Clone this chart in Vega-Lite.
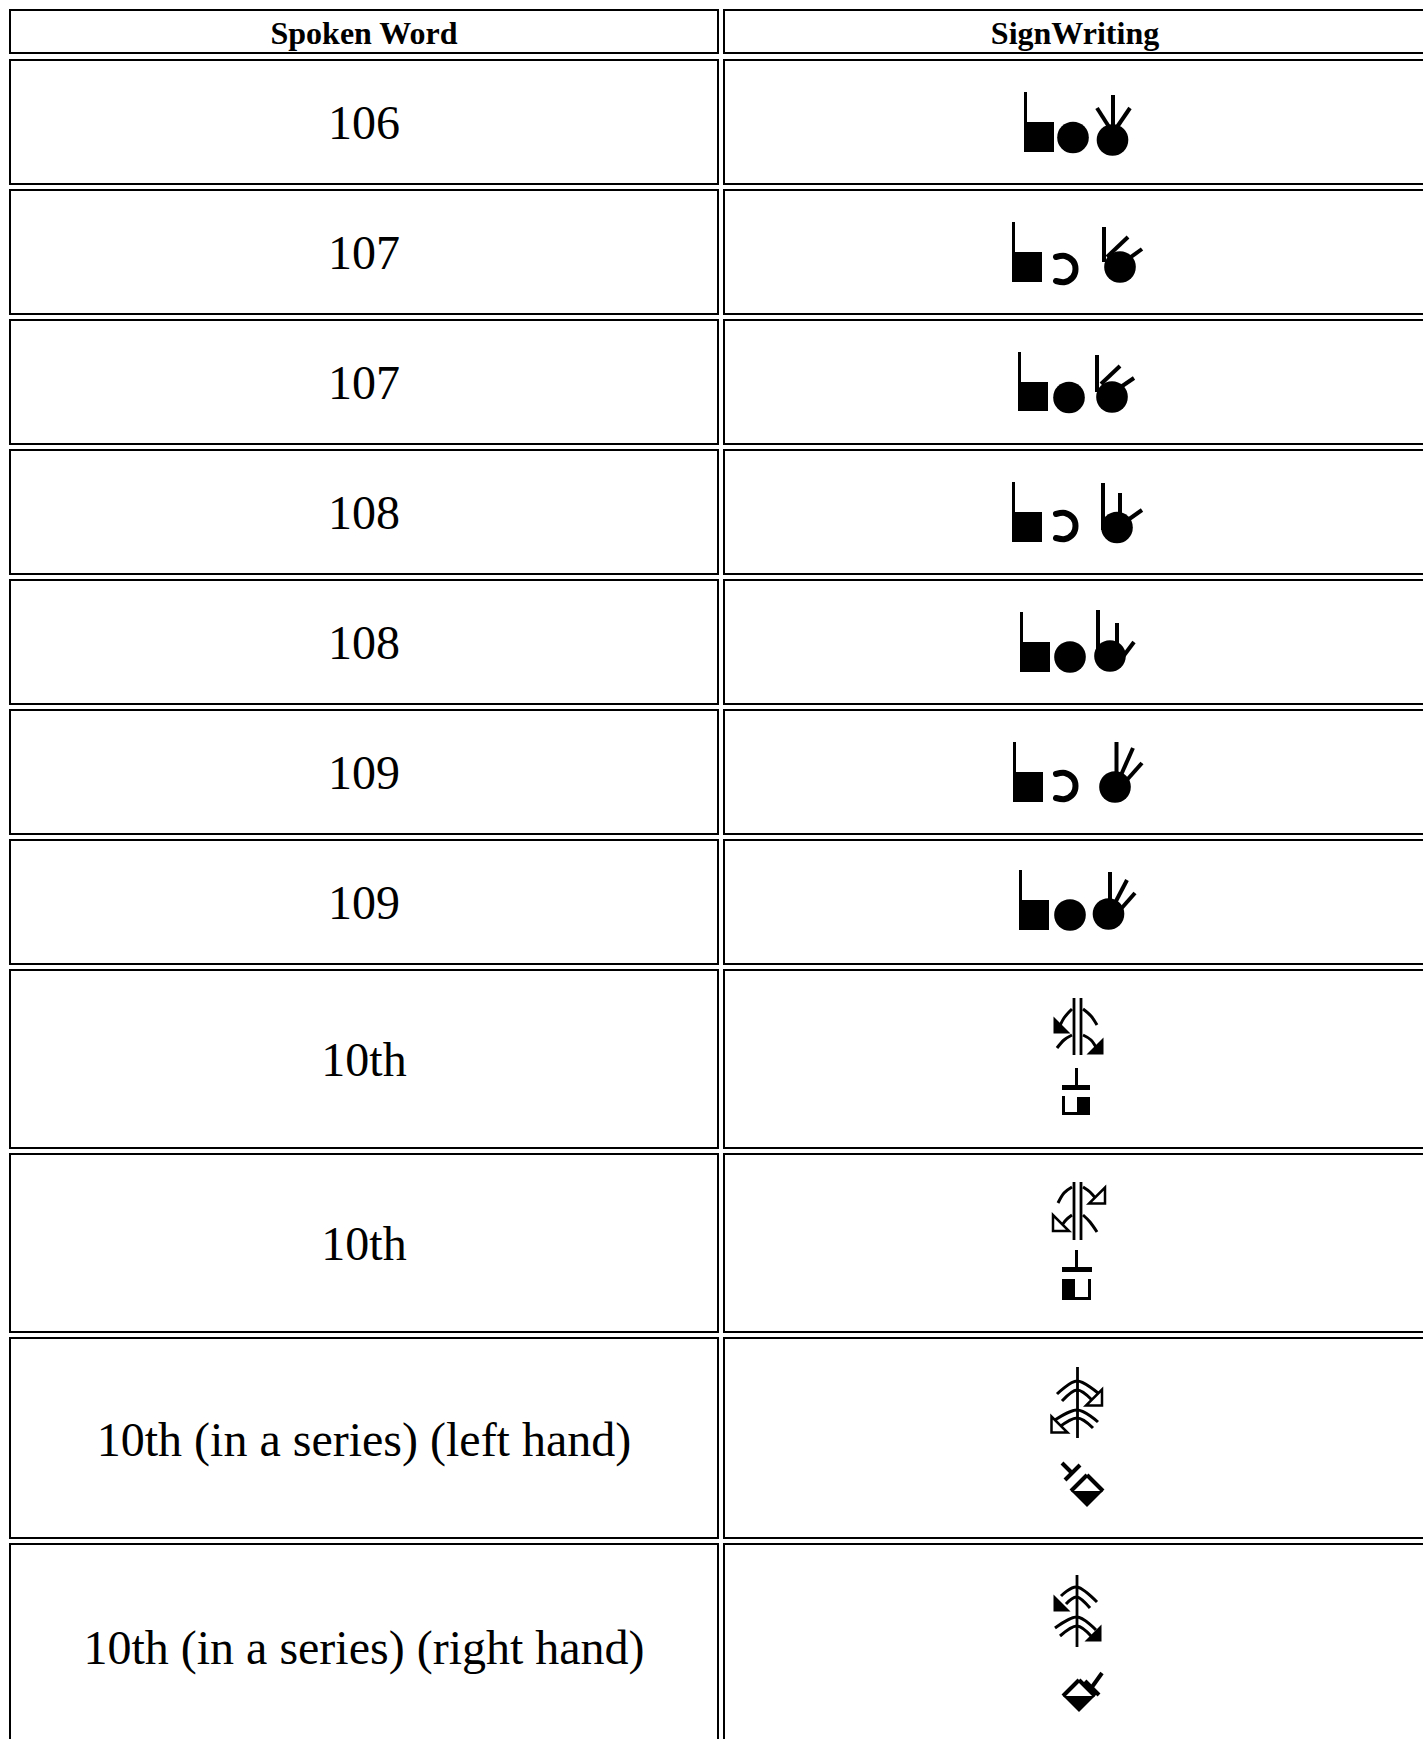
{
  "$schema": "https://vega.github.io/schema/vega-lite/v6.json",
  "width": 1423,
  "height": 1739,
  "autosize": {"type": "none"},
  "padding": 0,
  "background": "white",
  "config": {"view": {"stroke": null}},
  "datasets": {
    "cells": [
      {"x": 10, "x2": 718, "y": 10, "y2": 53}, {"x": 724, "x2": 1426, "y": 10, "y2": 53},
      {"x": 10, "x2": 718, "y": 60, "y2": 184}, {"x": 724, "x2": 1426, "y": 60, "y2": 184},
      {"x": 10, "x2": 718, "y": 190, "y2": 314}, {"x": 724, "x2": 1426, "y": 190, "y2": 314},
      {"x": 10, "x2": 718, "y": 320, "y2": 444}, {"x": 724, "x2": 1426, "y": 320, "y2": 444},
      {"x": 10, "x2": 718, "y": 450, "y2": 574}, {"x": 724, "x2": 1426, "y": 450, "y2": 574},
      {"x": 10, "x2": 718, "y": 580, "y2": 704}, {"x": 724, "x2": 1426, "y": 580, "y2": 704},
      {"x": 10, "x2": 718, "y": 710, "y2": 834}, {"x": 724, "x2": 1426, "y": 710, "y2": 834},
      {"x": 10, "x2": 718, "y": 840, "y2": 964}, {"x": 724, "x2": 1426, "y": 840, "y2": 964},
      {"x": 10, "x2": 718, "y": 970, "y2": 1148}, {"x": 724, "x2": 1426, "y": 970, "y2": 1148},
      {"x": 10, "x2": 718, "y": 1154, "y2": 1332}, {"x": 724, "x2": 1426, "y": 1154, "y2": 1332},
      {"x": 10, "x2": 718, "y": 1338, "y2": 1538}, {"x": 724, "x2": 1426, "y": 1338, "y2": 1538},
      {"x": 10, "x2": 718, "y": 1544, "y2": 1760}, {"x": 724, "x2": 1426, "y": 1544, "y2": 1760}
    ],
    "header": [
      {"t": "Spoken Word", "x": 364, "y": 33.5},
      {"t": "SignWriting", "x": 1075, "y": 33.5}
    ],
    "words": [
      {"t": "106", "x": 364, "y": 125},
      {"t": "107", "x": 364, "y": 255},
      {"t": "107", "x": 364, "y": 385},
      {"t": "108", "x": 364, "y": 515},
      {"t": "108", "x": 364, "y": 645},
      {"t": "109", "x": 364, "y": 775},
      {"t": "109", "x": 364, "y": 905},
      {"t": "10th", "x": 364, "y": 1062},
      {"t": "10th", "x": 364, "y": 1246},
      {"t": "10th (in a series) (left hand)", "x": 364, "y": 1442},
      {"t": "10th (in a series) (right hand)", "x": 364, "y": 1650}
    ],
    "blocks": [
      {"x": 1024, "x2": 1054, "y": 122, "y2": 152}, {"x": 1024, "x2": 1027, "y": 92, "y2": 122},
      {"x": 1012, "x2": 1042, "y": 252, "y2": 282}, {"x": 1012, "x2": 1015, "y": 222, "y2": 252},
      {"x": 1018, "x2": 1048, "y": 382, "y2": 411}, {"x": 1018, "x2": 1021, "y": 352, "y2": 382},
      {"x": 1012, "x2": 1042, "y": 512, "y2": 542}, {"x": 1012, "x2": 1015, "y": 482, "y2": 512},
      {"x": 1020, "x2": 1050, "y": 642, "y2": 672}, {"x": 1020, "x2": 1023, "y": 612, "y2": 642},
      {"x": 1013, "x2": 1043, "y": 772, "y2": 802}, {"x": 1013, "x2": 1016, "y": 742, "y2": 772},
      {"x": 1019, "x2": 1049, "y": 900, "y2": 930}, {"x": 1019, "x2": 1022, "y": 870, "y2": 900},
      {"x": 1062, "x2": 1090, "y": 1085, "y2": 1090}, {"x": 1075, "x2": 1078, "y": 1068, "y2": 1085},
      {"x": 1077, "x2": 1090, "y": 1097, "y2": 1115}, {"x": 1062, "x2": 1065, "y": 1096, "y2": 1115},
      {"x": 1062, "x2": 1077, "y": 1112, "y2": 1115},
      {"x": 1062, "x2": 1092, "y": 1267, "y2": 1272}, {"x": 1075, "x2": 1078, "y": 1250, "y2": 1267},
      {"x": 1062, "x2": 1075, "y": 1279, "y2": 1300}, {"x": 1088, "x2": 1091, "y": 1279, "y2": 1300},
      {"x": 1075, "x2": 1091, "y": 1297, "y2": 1300}
    ],
    "strokes": [
      {"x": 1113, "y": 95, "x2": 1113, "y2": 128}, {"x": 1097, "y": 108, "x2": 1111, "y2": 130}, {"x": 1130, "y": 108, "x2": 1115, "y2": 130},
      {"x": 1104, "y": 227, "x2": 1104, "y2": 262}, {"x": 1107, "y": 257, "x2": 1128, "y2": 237}, {"x": 1117, "y": 267, "x2": 1142, "y2": 249},
      {"x": 1097, "y": 355, "x2": 1097, "y2": 392}, {"x": 1101, "y": 384, "x2": 1120, "y2": 366}, {"x": 1112, "y": 393, "x2": 1134, "y2": 378},
      {"x": 1103, "y": 483, "x2": 1103, "y2": 530}, {"x": 1120, "y": 493, "x2": 1120, "y2": 522}, {"x": 1125, "y": 522, "x2": 1142, "y2": 510},
      {"x": 1098, "y": 610, "x2": 1098, "y2": 650}, {"x": 1117, "y": 623, "x2": 1117, "y2": 648}, {"x": 1122, "y": 658, "x2": 1134, "y2": 642},
      {"x": 1116.5, "y": 742, "x2": 1116.5, "y2": 782}, {"x": 1121, "y": 775, "x2": 1133, "y2": 748}, {"x": 1126, "y": 781, "x2": 1142, "y2": 763},
      {"x": 1110, "y": 872, "x2": 1110, "y2": 905}, {"x": 1115, "y": 903, "x2": 1127, "y2": 880}, {"x": 1120, "y": 910, "x2": 1135, "y2": 893},
      {"x": 1062, "y": 1463, "x2": 1073, "y2": 1474}, {"x": 1065, "y": 1480, "x2": 1080, "y2": 1465},
      {"x": 1071, "y": 1491, "x2": 1087, "y2": 1475}, {"x": 1087, "y": 1475, "x2": 1103, "y2": 1491},
      {"x": 1102, "y": 1673, "x2": 1092, "y2": 1687}, {"x": 1085, "y": 1681, "x2": 1099, "y2": 1695},
      {"x": 1063, "y": 1696, "x2": 1079, "y2": 1680}, {"x": 1079, "y": 1680, "x2": 1095, "y2": 1696}
    ],
    "thin": [
      {"x": 1074, "y": 998, "x2": 1074, "y2": 1055}, {"x": 1081, "y": 998, "x2": 1081, "y2": 1055},
      {"x": 1074, "y": 1182, "x2": 1074, "y2": 1240}, {"x": 1081, "y": 1182, "x2": 1081, "y2": 1240},
      {"x": 1077.5, "y": 1367, "x2": 1077.5, "y2": 1438},
      {"x": 1077, "y": 1575, "x2": 1077, "y2": 1647}
    ],
    "dots": [
      {"x": 1073, "y": 137.5}, {"x": 1112.5, "y": 140},
      {"x": 1120, "y": 267},
      {"x": 1069, "y": 397.5}, {"x": 1112, "y": 397},
      {"x": 1117, "y": 527.5},
      {"x": 1070, "y": 657}, {"x": 1110, "y": 656},
      {"x": 1115, "y": 787},
      {"x": 1070, "y": 915}, {"x": 1108.5, "y": 914}
    ],
    "hooks": [
      {"id": "h2", "o": 1, "x": 1056, "y": 257}, {"id": "h2", "o": 2, "x": 1065, "y": 256}, {"id": "h2", "o": 3, "x": 1073, "y": 261},
      {"id": "h2", "o": 4, "x": 1075.5, "y": 269}, {"id": "h2", "o": 5, "x": 1073, "y": 277}, {"id": "h2", "o": 6, "x": 1065, "y": 282}, {"id": "h2", "o": 7, "x": 1056, "y": 281},
      {"id": "h4", "o": 1, "x": 1056, "y": 514}, {"id": "h4", "o": 2, "x": 1065, "y": 513}, {"id": "h4", "o": 3, "x": 1073, "y": 518},
      {"id": "h4", "o": 4, "x": 1075.5, "y": 526}, {"id": "h4", "o": 5, "x": 1073, "y": 534}, {"id": "h4", "o": 6, "x": 1065, "y": 539}, {"id": "h4", "o": 7, "x": 1056, "y": 538},
      {"id": "h6", "o": 1, "x": 1056, "y": 774}, {"id": "h6", "o": 2, "x": 1065, "y": 773}, {"id": "h6", "o": 3, "x": 1073, "y": 778},
      {"id": "h6", "o": 4, "x": 1075.5, "y": 786}, {"id": "h6", "o": 5, "x": 1073, "y": 794}, {"id": "h6", "o": 6, "x": 1065, "y": 799}, {"id": "h6", "o": 7, "x": 1056, "y": 798}
    ],
    "arcs": [
      {"id": "a81", "o": 1, "x": 1058, "y": 1030}, {"id": "a81", "o": 2, "x": 1064, "y": 1018}, {"id": "a81", "o": 3, "x": 1072, "y": 1009},
      {"id": "a82", "o": 1, "x": 1083, "y": 1009}, {"id": "a82", "o": 2, "x": 1091, "y": 1016}, {"id": "a82", "o": 3, "x": 1097, "y": 1025},
      {"id": "a83", "o": 1, "x": 1057, "y": 1048}, {"id": "a83", "o": 2, "x": 1064, "y": 1040}, {"id": "a83", "o": 3, "x": 1072, "y": 1035},
      {"id": "a84", "o": 1, "x": 1083, "y": 1035}, {"id": "a84", "o": 2, "x": 1091, "y": 1040}, {"id": "a84", "o": 3, "x": 1097, "y": 1049},
      {"id": "a91", "o": 1, "x": 1058, "y": 1203}, {"id": "a91", "o": 2, "x": 1064, "y": 1193}, {"id": "a91", "o": 3, "x": 1072, "y": 1187},
      {"id": "a92", "o": 1, "x": 1083, "y": 1187}, {"id": "a92", "o": 2, "x": 1090, "y": 1192}, {"id": "a92", "o": 3, "x": 1096, "y": 1199},
      {"id": "a93", "o": 1, "x": 1060, "y": 1228}, {"id": "a93", "o": 2, "x": 1066, "y": 1220}, {"id": "a93", "o": 3, "x": 1072, "y": 1215},
      {"id": "a94", "o": 1, "x": 1083, "y": 1215}, {"id": "a94", "o": 2, "x": 1090, "y": 1222}, {"id": "a94", "o": 3, "x": 1097, "y": 1232},
      {"id": "a101", "o": 1, "x": 1057, "y": 1394}, {"id": "a101", "o": 2, "x": 1077, "y": 1381}, {"id": "a101", "o": 3, "x": 1098, "y": 1393},
      {"id": "a102", "o": 1, "x": 1062, "y": 1401}, {"id": "a102", "o": 2, "x": 1077, "y": 1390}, {"id": "a102", "o": 3, "x": 1092, "y": 1400},
      {"id": "a103", "o": 1, "x": 1052, "y": 1422}, {"id": "a103", "o": 2, "x": 1077, "y": 1410}, {"id": "a103", "o": 3, "x": 1098, "y": 1422},
      {"id": "a104", "o": 1, "x": 1058, "y": 1428}, {"id": "a104", "o": 2, "x": 1077, "y": 1418}, {"id": "a104", "o": 3, "x": 1093, "y": 1428},
      {"id": "a111", "o": 1, "x": 1061, "y": 1596}, {"id": "a111", "o": 2, "x": 1077, "y": 1587}, {"id": "a111", "o": 3, "x": 1097, "y": 1602},
      {"id": "a112", "o": 1, "x": 1066, "y": 1604}, {"id": "a112", "o": 2, "x": 1077, "y": 1597}, {"id": "a112", "o": 3, "x": 1090, "y": 1608},
      {"id": "a113", "o": 1, "x": 1055, "y": 1628}, {"id": "a113", "o": 2, "x": 1077, "y": 1617}, {"id": "a113", "o": 3, "x": 1096, "y": 1630},
      {"id": "a114", "o": 1, "x": 1060, "y": 1636}, {"id": "a114", "o": 2, "x": 1077, "y": 1626}, {"id": "a114", "o": 3, "x": 1092, "y": 1637}
    ],
    "heads": [
      {"x": 1062, "y": 1025, "sh": "bl", "k": "solid"}, {"x": 1095, "y": 1046, "sh": "br", "k": "solid"},
      {"x": 1097, "y": 1195.5, "sh": "br", "k": "hollow"}, {"x": 1061, "y": 1223, "sh": "bl", "k": "hollow"},
      {"x": 1094, "y": 1397.5, "sh": "br", "k": "hollow"}, {"x": 1059.5, "y": 1424.5, "sh": "bl", "k": "hollow"},
      {"x": 1062, "y": 1603, "sh": "bl", "k": "solid"}, {"x": 1093, "y": 1633, "sh": "br", "k": "solid"}
    ],
    "palms": [
      {"x": 1087, "y": 1491}, {"x": 1079, "y": 1696}
    ]
  },
  "encoding": {
    "x": {"field": "x", "type": "quantitative", "axis": null, "scale": {"domain": [0, 1423], "nice": false, "zero": false}},
    "y": {"field": "y", "type": "quantitative", "axis": null, "scale": {"domain": [0, 1739], "reverse": true, "nice": false, "zero": false}}
  },
  "layer": [
    {
      "data": {"name": "cells"},
      "mark": {"type": "rect", "fill": "white", "stroke": "black", "strokeWidth": 2, "clip": true},
      "encoding": {"x2": {"field": "x2"}, "y2": {"field": "y2"}}
    },
    {
      "data": {"name": "header"},
      "mark": {"type": "text", "font": "Liberation Serif", "fontSize": 32, "fontWeight": "bold", "align": "center", "baseline": "middle", "color": "black"},
      "encoding": {"text": {"field": "t"}}
    },
    {
      "data": {"name": "words"},
      "mark": {"type": "text", "font": "Liberation Serif", "fontSize": 48, "align": "center", "baseline": "middle", "color": "black"},
      "encoding": {"text": {"field": "t"}}
    },
    {
      "data": {"name": "arcs"},
      "mark": {"type": "line", "color": "black", "strokeWidth": 3, "interpolate": "cardinal"},
      "encoding": {"detail": {"field": "id"}, "order": {"field": "o", "type": "quantitative"}}
    },
    {
      "data": {"name": "hooks"},
      "mark": {"type": "line", "color": "black", "strokeWidth": 6, "interpolate": "cardinal", "strokeCap": "round"},
      "encoding": {"detail": {"field": "id"}, "order": {"field": "o", "type": "quantitative"}}
    },
    {
      "data": {"name": "thin"},
      "mark": {"type": "rule", "color": "black", "strokeWidth": 2.8},
      "encoding": {"x2": {"field": "x2"}, "y2": {"field": "y2"}}
    },
    {
      "data": {"name": "strokes"},
      "mark": {"type": "rule", "color": "black", "strokeWidth": 4},
      "encoding": {"x2": {"field": "x2"}, "y2": {"field": "y2"}}
    },
    {
      "data": {"name": "blocks"},
      "mark": {"type": "rect", "color": "black"},
      "encoding": {"x2": {"field": "x2"}, "y2": {"field": "y2"}}
    },
    {
      "data": {"name": "dots"},
      "mark": {"type": "point", "shape": "circle", "filled": true, "color": "black", "opacity": 1, "size": 1000}
    },
    {
      "data": {"name": "heads"},
      "transform": [{"filter": "datum.k === 'solid'"}],
      "mark": {"type": "point", "filled": true, "color": "black", "opacity": 1, "size": 289},
      "encoding": {"shape": {"field": "sh", "type": "nominal", "legend": null, "scale": {"domain": ["bl", "br"], "range": ["M -1 -1 L -1 1 L 1 1 Z", "M 1 -1 L 1 1 L -1 1 Z"]}}}
    },
    {
      "data": {"name": "heads"},
      "transform": [{"filter": "datum.k === 'hollow'"}],
      "mark": {"type": "point", "filled": true, "fill": "white", "stroke": "black", "strokeWidth": 2.5, "opacity": 1, "size": 256},
      "encoding": {"shape": {"field": "sh", "type": "nominal", "legend": null, "scale": {"domain": ["bl", "br"], "range": ["M -1 -1 L -1 1 L 1 1 Z", "M 1 -1 L 1 1 L -1 1 Z"]}}}
    },
    {
      "data": {"name": "palms"},
      "mark": {"type": "point", "shape": "M -1 0 L 1 0 L 0 1 Z", "filled": true, "color": "black", "opacity": 1, "size": 1024}
    }
  ]
}
